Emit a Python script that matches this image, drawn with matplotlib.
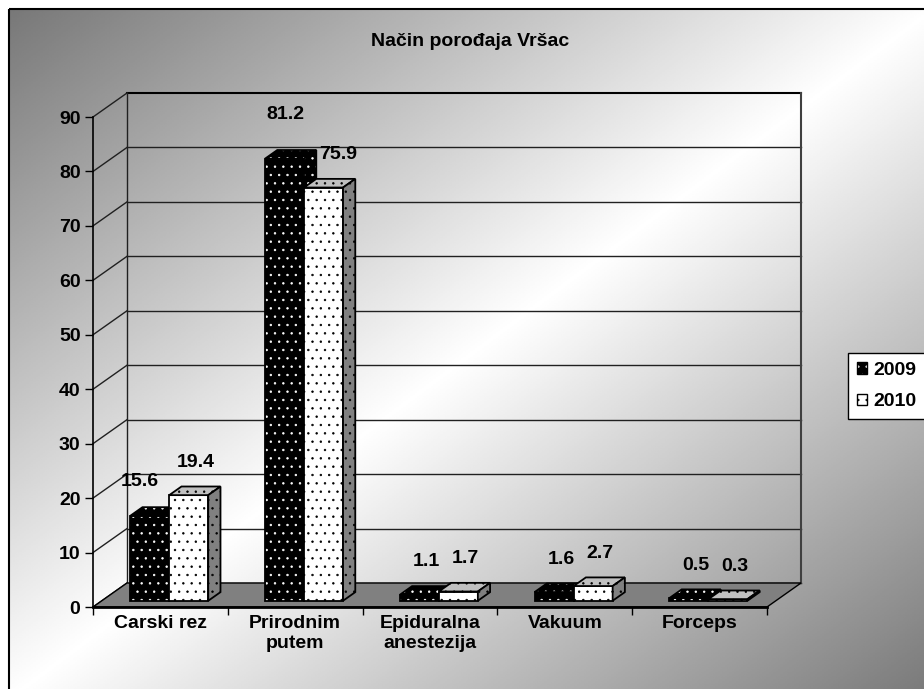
# Način porođaja Vršac - 3D stubićasti grafikon (kao u Excelu)

import numpy as np
import matplotlib
matplotlib.use('Agg')
import matplotlib.pyplot as plt
from matplotlib.patches import Polygon, Rectangle, Patch

plt.rcParams['font.family'] = ['Liberation Sans', 'DejaVu Sans']
plt.rcParams['font.weight'] = 'bold'
plt.rcParams['hatch.linewidth'] = 0.5

# podaci
naslov = 'Način porođaja Vršac'
kategorije = ['Carski rez', 'Prirodnim\nputem', 'Epiduralna\nanestezija', 'Vakuum', 'Forceps']
godine = ['2009', '2010']
v2009 = [15.6, 81.2, 1.1, 1.6, 0.5]
v2010 = [19.4, 75.9, 1.7, 2.7, 0.3]
y_podela = list(range(0, 100, 10))

W, H = 924, 689
FS = 14
fig = plt.figure(figsize=(W / 100, H / 100), dpi=100)

# pozadina sa dijagonalnim prelazom
bg = fig.add_axes([0, 0, 1, 1], zorder=-10)
bg.set_xlim(0, W)
bg.set_ylim(H, 0)
bg.axis('off')
xx, yy = np.meshgrid(np.linspace(0, 1, 400), np.linspace(0, 1, 400))
u = (xx + yy) / 2
tamno = 0.47
grad = tamno + (1 - tamno) * (1 - np.abs(2 * u - 1))
bg.imshow(grad, cmap='gray', vmin=0, vmax=1, extent=(9, W + 10, H + 10, 9),
          aspect='auto', interpolation='bilinear')
bg.add_patch(Rectangle((9, 9), W + 30, H + 30, fill=False, ec='black', lw=1.5,
                       clip_on=False))

# glavni grafikon (prednja ravan)
ax = fig.add_axes([93 / W, (H - 607) / H, 674 / W, 490 / H])
ax.set_xlim(0, 5)
ax.set_ylim(0, 90)
ax.patch.set_visible(False)
DX = 34 / 674 * 5      # dubina u jedinicama podataka
DY = 24 / 490 * 90

# zadnji i levi zid
for t in y_podela:
    boja = 'black' if t == 90 else '#202020'
    ax.plot([DX, 5 + DX], [t + DY, t + DY], color=boja, lw=1.5 if t == 90 else 1,
            clip_on=False, zorder=1)
    ax.plot([0, DX], [t, t + DY], color='#202020', lw=1, clip_on=False, zorder=1)
ax.plot([DX, DX], [DY, 90 + DY], color='#202020', lw=1, clip_on=False, zorder=1)
ax.plot([5 + DX, 5 + DX], [DY, 90 + DY], color='#404040', lw=1.5, clip_on=False, zorder=1)

# pod
ax.add_patch(Polygon([(0, 0), (5, 0), (5 + DX, DY), (DX, DY)], closed=True,
                     fc='#808080', ec='black', lw=1, clip_on=False, zorder=1.5))

# stubići
SIR = 39 / 674 * 5
F0, F1 = 0.26, 0.62
stil = [dict(front='black', top='black', side='black', dots='white'),
        dict(front='white', top='#c0c0c0', side='#808080', dots='black')]
pomeraji = {(0, 0): (-10, 34), (0, 1): (1, 44), (1, 1): (15, 33)}


def lice(pts, fc, dots, z):
    ax.add_patch(Polygon(pts, closed=True, fc=fc, ec=dots, lw=0, hatch='..',
                         clip_on=False, zorder=z))
    ax.add_patch(Polygon(pts, closed=True, fill=False, ec='black', lw=1.3,
                         clip_on=False, zorder=z))


for s, vrednosti in enumerate([v2009, v2010]):
    st = stil[s]
    for i, h in enumerate(vrednosti):
        x0 = i + 0.5 - SIR + s * SIR + F0 * DX
        x1 = x0 + SIR
        y0 = F0 * DY
        ddx, ddy = (F1 - F0) * DX, (F1 - F0) * DY
        z = 3 + s * 0.1
        lice([(x0, y0), (x1, y0), (x1, h + y0), (x0, h + y0)], st['front'], st['dots'], z)
        lice([(x0, h + y0), (x1, h + y0), (x1 + ddx, h + y0 + ddy), (x0 + ddx, h + y0 + ddy)],
             st['top'], st['dots'], z)
        lice([(x1, y0), (x1 + ddx, y0 + ddy), (x1 + ddx, h + y0 + ddy), (x1, h + y0)],
             st['side'], st['dots'], z)
        ox, oy = pomeraji.get((s, i), (7, 33))
        ax.annotate(f'{h:.1f}', xy=(x0 + SIR / 2, h + y0), xytext=(ox, oy),
                    textcoords='offset pixels', ha='center', va='center',
                    fontsize=FS, fontweight='bold', annotation_clip=False)

# ose
for sp in ['top', 'right']:
    ax.spines[sp].set_visible(False)
ax.spines['left'].set_linewidth(1.2)
ax.spines['bottom'].set_linewidth(2)
ax.spines['bottom'].set_zorder(2)
ax.set_yticks(y_podela)
ax.set_xticks(range(6))
ax.set_xticklabels([])
ax.set_xticks(np.arange(5) + 0.5, minor=True)
ax.set_xticklabels(kategorije, minor=True)
ax.tick_params(axis='x', which='major', length=6, width=1, direction='out')
ax.tick_params(axis='x', which='minor', length=0, pad=6, labelsize=FS)
ax.tick_params(axis='y', length=6, width=1, pad=3, labelsize=FS)

fig.text(470 / W, 1 - 42 / H, naslov, ha='center', va='center', fontsize=FS,
         fontweight='bold')

# legenda
ruke = [(Patch(fc='black', ec='white', lw=0, hatch='..'), Patch(fill=False, ec='black', lw=1)),
        (Patch(fc='white', ec='black', lw=0, hatch='..'), Patch(fill=False, ec='black', lw=1))]
leg = fig.legend(ruke, godine, loc='upper left',
                 bbox_to_anchor=(848 / W, (H - 416) / H, 0.12, 63 / H), mode='expand',
                 fontsize=FS, handlelength=0.55, handleheight=0.55, handletextpad=0.3,
                 labelspacing=0.75, borderpad=0.45, borderaxespad=0, fancybox=False,
                 framealpha=1, edgecolor='black')
leg.get_frame().set_linewidth(1)

fig.savefig('out.png', dpi=100)
